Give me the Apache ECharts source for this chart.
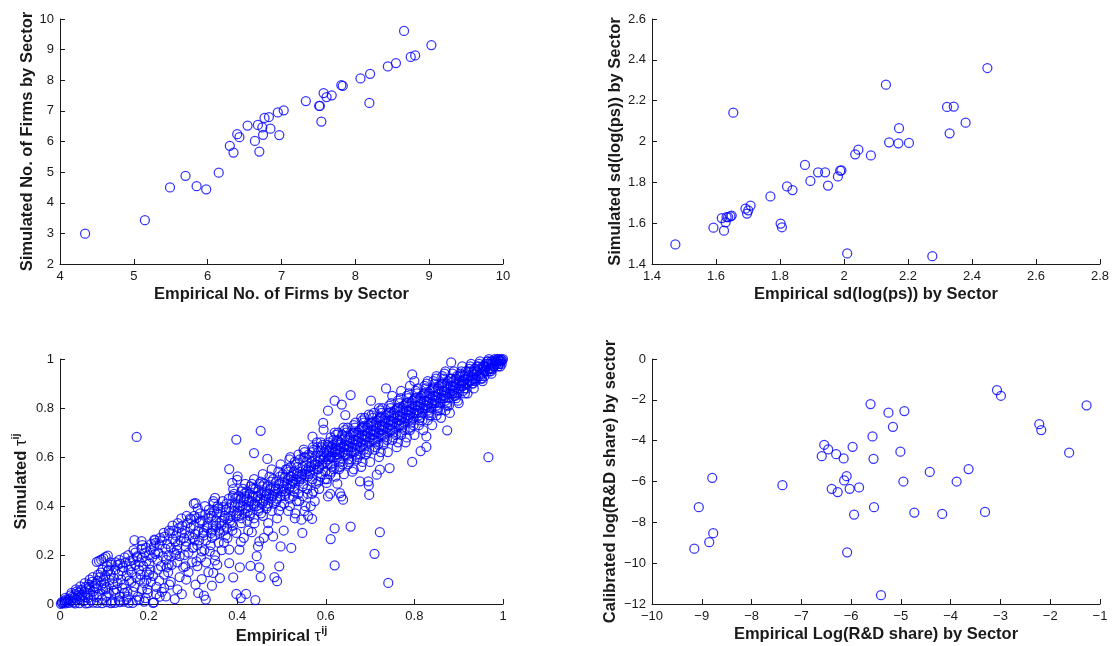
<!DOCTYPE html>
<html>
<head>
<meta charset="utf-8">
<title>Sector calibration scatter plots</title>
<script src="https://cdn.jsdelivr.net/npm/echarts@6/dist/echarts.min.js"></script>
<style>
  html, body { margin: 0; padding: 0; background: #ffffff; }
  #chart { width: 1115px; height: 646px; }
</style>
</head>
<body>
<div id="chart"></div>
<script>
// Number of firms by sector: [empirical, simulated]
const firmsPairs = [
  [4.34,2.99],[5.15,3.43],[5.49,4.50],[5.70,4.88],[5.85,4.54],[5.98,4.44],[6.15,4.98],
  [6.30,5.86],[6.35,5.64],[6.40,6.24],[6.43,6.14],[6.54,6.52],[6.64,6.02],[6.68,6.54],
  [6.70,5.67],[6.74,6.46],[6.75,6.22],[6.77,6.77],[6.83,6.80],[6.85,6.42],[6.95,6.95],
  [6.97,6.21],[7.03,7.02],[7.33,7.32],[7.51,7.16],[7.52,7.16],[7.54,6.65],[7.57,7.58],
  [7.61,7.45],[7.68,7.51],[7.81,7.84],[7.83,7.82],[8.07,8.06],[8.19,7.26],[8.20,8.21],
  [8.44,8.45],[8.55,8.56],[8.66,9.61],[8.75,8.76],[8.81,8.81],[9.03,9.15]
];

// sd(log(ps)) by sector: [empirical, simulated]
const sdPairs = [
  [1.473,1.496],[1.592,1.578],[1.618,1.625],[1.625,1.563],[1.630,1.604],[1.633,1.630],
  [1.638,1.630],[1.645,1.633],[1.649,1.637],[1.654,2.141],[1.692,1.671],[1.697,1.647],
  [1.701,1.663],[1.708,1.686],[1.770,1.731],[1.802,1.598],[1.806,1.580],[1.822,1.780],
  [1.839,1.762],[1.878,1.885],[1.895,1.807],[1.919,1.849],[1.941,1.849],[1.950,1.784],
  [1.981,1.829],[1.988,1.857],[1.992,1.859],[2.010,1.452],[2.035,1.937],[2.045,1.960],
  [2.084,1.932],[2.131,2.278],[2.141,1.996],[2.170,1.991],[2.172,2.065],[2.203,1.993],
  [2.276,1.438],[2.322,2.169],[2.330,2.040],[2.343,2.171],[2.380,2.092],[2.448,2.360]
];

// Log(R&D share) by sector: [empirical, calibrated]
const rdPairs = [
  [-9.15,-9.29],[-9.06,-7.26],[-8.85,-8.97],[-8.79,-5.82],[-8.77,-8.53],[-7.38,-6.18],
  [-6.59,-4.76],[-6.54,-4.20],[-6.46,-4.43],[-6.39,-6.36],[-6.30,-4.66],[-6.27,-6.52],
  [-6.15,-4.87],[-6.14,-5.95],[-6.09,-5.74],[-6.08,-9.47],[-6.03,-6.36],[-5.97,-4.30],
  [-5.94,-7.62],[-5.84,-6.29],[-5.61,-2.21],[-5.57,-3.79],[-5.55,-4.89],[-5.54,-7.26],
  [-5.40,-11.57],[-5.25,-2.63],[-5.16,-3.32],[-5.01,-4.54],[-4.95,-6.00],[-4.93,-2.55],
  [-4.73,-7.52],[-4.42,-5.53],[-4.17,-7.59],[-3.88,-6.00],[-3.64,-5.39],[-3.31,-7.49],
  [-3.07,-1.52],[-2.99,-1.80],[-2.22,-3.19],[-2.18,-3.48],[-1.62,-4.59],[-1.27,-2.27]
];

// Bilateral tau: [empirical, simulated] — main band along the diagonal
const tauBand = [
  [0.002,0.001],[0.005,0.004],[0.008,0.006],[0.01,0.012],[0.012,0.003],[0.015,0.009],[0.018,0.016],[0.02,0.005],[0.004,0.008],[0.013,0.018],
  [0.022,0.02],[0.025,0.011],[0.028,0.03],[0.03,0.007],[0.032,0.025],[0.035,0.04],[0.037,0.018],[0.04,0.033],[0.026,0.045],[0.038,0.052],[0.034,0.003],
  [0.042,0.045],[0.045,0.02],[0.048,0.058],[0.05,0.037],[0.053,0.012],[0.055,0.05],[0.058,0.07],[0.044,0.004],[0.057,0.028],[0.06,0.061],
  [0.062,0.043],[0.065,0.08],[0.068,0.06],[0.07,0.015],[0.072,0.09],[0.075,0.052],[0.078,0.072],[0.064,0.004],[0.076,0.034],[0.08,0.083],[0.067,0.1],
  [0.082,0.065],[0.085,0.095],[0.088,0.04],[0.09,0.11],[0.093,0.077],[0.095,0.02],[0.098,0.1],[0.084,0.005],[0.097,0.06],[0.1,0.085],[0.092,0.128],
  [0.102,0.115],[0.105,0.07],[0.108,0.135],[0.11,0.045],[0.112,0.098],[0.115,0.12],[0.118,0.01],[0.104,0.03],[0.116,0.16],[0.12,0.08],[0.11,0.14],
  [0.122,0.105],[0.125,0.14],[0.128,0.06],[0.13,0.16],[0.132,0.12],[0.135,0.03],[0.138,0.1],[0.124,0.005],[0.136,0.165],[0.14,0.135],[0.13,0.085],
  [0.142,0.15],[0.145,0.08],[0.148,0.17],[0.15,0.115],[0.152,0.05],[0.155,0.14],[0.158,0.175],[0.144,0.01],[0.156,0.095],[0.16,0.155],[0.15,0.02],
  [0.162,0.13],[0.165,0.18],[0.168,0.07],[0.17,0.16],[0.172,0.11],[0.175,0.195],[0.178,0.14],[0.164,0.005],[0.176,0.03],[0.18,0.17],[0.17,0.21],
  [0.182,0.12],[0.185,0.19],[0.188,0.155],[0.19,0.085],[0.192,0.21],[0.195,0.175],[0.198,0.045],[0.184,0.225],[0.196,0.13],[0.2,0.2],[0.19,0.01],
  [0.202,0.165],[0.205,0.22],[0.208,0.19],[0.21,0.115],[0.212,0.235],[0.215,0.205],[0.218,0.07],[0.204,0.14],[0.216,0.25],[0.22,0.18],[0.21,0.005],
  [0.222,0.21],[0.225,0.24],[0.228,0.155],[0.23,0.26],[0.232,0.195],[0.235,0.12],[0.238,0.225],[0.224,0.095],[0.236,0.275],[0.24,0.18],[0.23,0.05],
  [0.242,0.245],[0.245,0.2],[0.248,0.29],[0.25,0.23],[0.252,0.16],[0.255,0.265],[0.258,0.21],[0.244,0.13],[0.256,0.3],[0.26,0.255],[0.25,0.09],
  [0.262,0.28],[0.265,0.24],[0.268,0.31],[0.27,0.195],[0.272,0.26],[0.275,0.29],[0.278,0.15],[0.264,0.22],[0.276,0.32],[0.28,0.27],[0.27,0.11],
  [0.282,0.3],[0.285,0.255],[0.288,0.33],[0.29,0.21],[0.292,0.28],[0.295,0.31],[0.298,0.17],[0.284,0.235],[0.296,0.345],[0.3,0.27],[0.29,0.13],
  [0.302,0.32],[0.305,0.285],[0.308,0.35],[0.31,0.24],[0.312,0.3],[0.315,0.33],[0.318,0.19],[0.304,0.26],[0.316,0.37],[0.32,0.215],[0.31,0.155],
  [0.322,0.34],[0.325,0.3],[0.328,0.365],[0.33,0.26],[0.332,0.32],[0.335,0.35],[0.338,0.215],[0.324,0.28],[0.336,0.385],[0.34,0.24],[0.33,0.17],
  [0.342,0.36],[0.345,0.32],[0.348,0.38],[0.35,0.28],[0.352,0.34],[0.355,0.37],[0.358,0.25],[0.344,0.3],[0.356,0.4],[0.36,0.33],[0.35,0.2],
  [0.362,0.375],[0.365,0.34],[0.368,0.395],[0.37,0.3],[0.372,0.36],[0.375,0.385],[0.378,0.27],[0.364,0.32],[0.376,0.41],[0.38,0.35],[0.37,0.25],
  [0.382,0.39],[0.385,0.36],[0.388,0.41],[0.39,0.32],[0.392,0.38],[0.395,0.4],[0.398,0.29],[0.384,0.34],[0.396,0.43],[0.4,0.37],[0.39,0.44],
  [0.402,0.41],[0.405,0.38],[0.408,0.43],[0.41,0.35],[0.412,0.4],[0.415,0.42],[0.418,0.44],[0.404,0.36],[0.416,0.45],[0.42,0.39],[0.41,0.46],
  [0.422,0.43],[0.425,0.4],[0.428,0.45],[0.43,0.37],[0.432,0.42],[0.435,0.44],[0.438,0.35],[0.424,0.38],[0.436,0.47],[0.44,0.41],[0.43,0.48],
  [0.442,0.44],[0.445,0.42],[0.448,0.46],[0.45,0.39],[0.452,0.43],[0.455,0.45],[0.458,0.36],[0.444,0.4],[0.456,0.48],[0.46,0.42],[0.45,0.49],
  [0.462,0.46],[0.465,0.44],[0.468,0.48],[0.47,0.41],[0.472,0.45],[0.475,0.47],[0.478,0.38],[0.464,0.43],[0.476,0.5],[0.48,0.44],[0.47,0.33],
  [0.482,0.48],[0.485,0.46],[0.488,0.5],[0.49,0.43],[0.492,0.47],[0.495,0.49],[0.498,0.4],[0.484,0.45],[0.496,0.52],[0.5,0.46],[0.49,0.35],
  [0.502,0.5],[0.505,0.48],[0.508,0.52],[0.51,0.45],[0.512,0.49],[0.515,0.51],[0.518,0.43],[0.504,0.47],[0.516,0.54],[0.52,0.48],[0.51,0.55],
  [0.522,0.52],[0.525,0.5],[0.528,0.54],[0.53,0.47],[0.532,0.51],[0.535,0.53],[0.538,0.45],[0.524,0.49],[0.536,0.56],[0.54,0.5],[0.53,0.58],
  [0.542,0.54],[0.545,0.52],[0.548,0.56],[0.55,0.49],[0.552,0.53],[0.555,0.55],[0.558,0.47],[0.544,0.51],[0.556,0.58],[0.56,0.52],[0.55,0.6],
  [0.562,0.56],[0.565,0.54],[0.568,0.58],[0.57,0.51],[0.572,0.55],[0.575,0.57],[0.578,0.49],[0.564,0.53],[0.576,0.6],[0.58,0.55],[0.57,0.62],
  [0.582,0.58],[0.585,0.56],[0.588,0.6],[0.59,0.53],[0.592,0.57],[0.595,0.59],[0.598,0.51],[0.584,0.55],[0.596,0.62],[0.6,0.58],[0.59,0.64],
  [0.602,0.61],[0.605,0.59],[0.608,0.63],[0.61,0.57],[0.612,0.6],[0.615,0.62],[0.618,0.55],[0.604,0.64],[0.616,0.65],[0.62,0.6],[0.61,0.53],[0.607,0.62],
  [0.622,0.63],[0.625,0.61],[0.628,0.65],[0.63,0.59],[0.632,0.62],[0.635,0.64],[0.638,0.57],[0.624,0.66],[0.636,0.67],[0.64,0.62],[0.63,0.55],[0.627,0.63],
  [0.642,0.65],[0.645,0.63],[0.648,0.67],[0.65,0.61],[0.652,0.64],[0.655,0.66],[0.658,0.59],[0.644,0.68],[0.656,0.69],[0.66,0.64],[0.65,0.57],[0.647,0.65],
  [0.662,0.67],[0.665,0.65],[0.668,0.69],[0.67,0.63],[0.672,0.66],[0.675,0.68],[0.678,0.61],[0.664,0.7],[0.676,0.71],[0.68,0.66],[0.67,0.59],[0.667,0.67],
  [0.682,0.69],[0.685,0.67],[0.688,0.71],[0.69,0.65],[0.692,0.68],[0.695,0.7],[0.698,0.63],[0.684,0.72],[0.696,0.73],[0.7,0.68],[0.69,0.61],[0.687,0.69],
  [0.702,0.71],[0.705,0.69],[0.708,0.73],[0.71,0.67],[0.712,0.7],[0.715,0.72],[0.718,0.65],[0.704,0.74],[0.716,0.75],[0.72,0.7],[0.71,0.63],[0.707,0.71],
  [0.722,0.73],[0.725,0.71],[0.728,0.75],[0.73,0.69],[0.732,0.72],[0.735,0.74],[0.738,0.67],[0.724,0.76],[0.736,0.77],[0.74,0.72],[0.73,0.65],[0.727,0.73],
  [0.742,0.75],[0.745,0.73],[0.748,0.77],[0.75,0.71],[0.752,0.74],[0.755,0.76],[0.758,0.69],[0.744,0.78],[0.756,0.79],[0.76,0.74],[0.75,0.67],[0.747,0.75],
  [0.762,0.77],[0.765,0.75],[0.768,0.79],[0.77,0.73],[0.772,0.76],[0.775,0.78],[0.778,0.71],[0.764,0.8],[0.776,0.81],[0.78,0.76],[0.77,0.69],[0.767,0.77],
  [0.782,0.79],[0.785,0.77],[0.788,0.81],[0.79,0.75],[0.792,0.78],[0.795,0.8],[0.798,0.73],[0.784,0.82],[0.796,0.83],[0.8,0.78],[0.79,0.71],[0.787,0.79],
  [0.802,0.81],[0.805,0.79],[0.808,0.83],[0.81,0.77],[0.812,0.8],[0.815,0.82],[0.818,0.75],[0.804,0.84],[0.816,0.85],[0.82,0.8],[0.81,0.73],[0.807,0.81],
  [0.822,0.83],[0.825,0.81],[0.828,0.85],[0.83,0.79],[0.832,0.82],[0.835,0.84],[0.838,0.77],[0.824,0.86],[0.836,0.87],[0.84,0.82],[0.83,0.75],[0.827,0.83],
  [0.842,0.85],[0.845,0.83],[0.848,0.87],[0.85,0.81],[0.852,0.84],[0.855,0.86],[0.858,0.79],[0.844,0.88],[0.856,0.89],[0.86,0.84],[0.85,0.77],[0.847,0.85],
  [0.862,0.87],[0.865,0.85],[0.868,0.89],[0.87,0.83],[0.872,0.86],[0.875,0.88],[0.878,0.81],[0.864,0.9],[0.876,0.91],[0.88,0.86],[0.87,0.79],[0.867,0.87],
  [0.882,0.89],[0.885,0.87],[0.888,0.91],[0.89,0.85],[0.892,0.88],[0.895,0.9],[0.898,0.83],[0.884,0.92],[0.896,0.93],[0.9,0.88],[0.89,0.86],[0.887,0.89],
  [0.902,0.91],[0.905,0.89],[0.908,0.93],[0.91,0.87],[0.912,0.9],[0.915,0.92],[0.918,0.88],[0.904,0.94],[0.916,0.95],[0.92,0.9],[0.91,0.91],[0.907,0.91],
  [0.922,0.93],[0.925,0.91],[0.928,0.95],[0.93,0.9],[0.932,0.92],[0.935,0.94],[0.938,0.91],[0.924,0.96],[0.936,0.96],[0.94,0.92],[0.93,0.93],
  [0.942,0.95],[0.945,0.93],[0.948,0.96],[0.95,0.92],[0.952,0.94],[0.955,0.96],[0.958,0.93],[0.944,0.97],[0.956,0.97],[0.96,0.95],
  [0.962,0.97],[0.965,0.95],[0.968,0.98],[0.97,0.95],[0.972,0.96],[0.975,0.98],[0.978,0.97],[0.964,0.99],[0.976,0.99],[0.98,0.97],
  [0.982,0.99],[0.985,0.98],[0.988,1.0],[0.99,0.98],[0.992,0.99],[0.995,1.0],[0.998,0.995],[0.984,0.995],[0.996,0.99],[1.0,1.0],[0.99,1.0]
];

// Bilateral tau: [empirical, simulated] — further pairs filling out the band edges
const tauBandEdges = [
  [0.012,0.025],[0.024,0.035],[0.036,0.06],[0.046,0.072],[0.056,0.085],[0.066,0.07],[0.074,0.11],[0.086,0.12],
  [0.096,0.14],[0.106,0.155],[0.114,0.17],[0.126,0.17],[0.134,0.18],[0.146,0.19],[0.154,0.2],[0.166,0.22],
  [0.174,0.19],[0.186,0.24],[0.194,0.23],[0.206,0.245],[0.214,0.26],[0.226,0.27],[0.234,0.29],[0.246,0.3],
  [0.254,0.32],[0.266,0.33],[0.274,0.35],[0.286,0.36],[0.294,0.35],
  [0.103,0.06],[0.121,0.055],[0.141,0.065],[0.161,0.09],[0.181,0.1],[0.201,0.12],[0.221,0.14],[0.241,0.15],
  [0.261,0.2],[0.281,0.2],[0.299,0.23],[0.133,0.015],[0.153,0.03],[0.173,0.015],[0.197,0.06],[0.217,0.04],
  [0.063,0.025],[0.083,0.028],[0.047,0.03],
  [0.303,0.36],[0.311,0.39],[0.318,0.34],[0.323,0.29],[0.327,0.4],[0.333,0.31],[0.339,0.37],[0.343,0.27],
  [0.347,0.41],[0.353,0.32],[0.357,0.39],[0.361,0.29],[0.367,0.42],[0.371,0.35],[0.377,0.31],[0.381,0.43],
  [0.387,0.33],[0.393,0.45],[0.397,0.36],[0.301,0.23],[0.314,0.26],[0.326,0.22],[0.341,0.29],[0.359,0.3],
  [0.374,0.28],[0.389,0.3],
  [0.403,0.44],[0.407,0.4],[0.413,0.47],[0.417,0.37],[0.421,0.46],[0.427,0.42],[0.433,0.49],[0.437,0.4],
  [0.441,0.47],[0.447,0.44],[0.453,0.5],[0.457,0.41],[0.461,0.49],[0.467,0.45],[0.473,0.52],[0.477,0.43],
  [0.481,0.51],[0.487,0.47],[0.493,0.54],[0.497,0.44],[0.409,0.33],[0.423,0.34],[0.439,0.33],[0.454,0.37],
  [0.466,0.39],[0.483,0.41],[0.494,0.38],
  [0.503,0.53],[0.507,0.46],[0.513,0.55],[0.517,0.47],[0.521,0.56],[0.527,0.5],[0.533,0.57],[0.537,0.52],
  [0.541,0.59],[0.547,0.53],[0.553,0.6],[0.557,0.54],[0.561,0.61],[0.567,0.56],[0.573,0.63],[0.577,0.57],
  [0.581,0.64],[0.587,0.59],[0.593,0.65],[0.597,0.6],[0.506,0.41],[0.519,0.4],[0.526,0.44],[0.534,0.42],
  [0.548,0.44],[0.559,0.45],[0.572,0.46],[0.583,0.5],[0.599,0.54],[0.531,0.37],[0.552,0.38],[0.566,0.4],
  [0.601,0.63],[0.606,0.66],[0.609,0.6],[0.613,0.64],[0.617,0.67],[0.621,0.62],[0.626,0.67],[0.629,0.61],
  [0.633,0.66],[0.637,0.69],[0.641,0.64],[0.646,0.7],[0.649,0.63],[0.653,0.68],[0.657,0.62],[0.661,0.7],
  [0.666,0.72],[0.669,0.65],[0.673,0.7],[0.677,0.64],[0.681,0.72],[0.686,0.74],[0.689,0.67],[0.693,0.72],
  [0.697,0.66],[0.614,0.56],[0.633,0.58],[0.651,0.59],[0.668,0.61],[0.686,0.63],[0.603,0.51],[0.622,0.52],
  [0.641,0.53],[0.663,0.55],[0.683,0.58],
  [0.701,0.74],[0.706,0.76],[0.709,0.69],[0.713,0.74],[0.717,0.68],[0.721,0.76],[0.726,0.78],[0.729,0.71],
  [0.733,0.76],[0.737,0.7],[0.741,0.78],[0.746,0.8],[0.749,0.73],[0.753,0.78],[0.757,0.72],[0.761,0.8],
  [0.766,0.82],[0.769,0.75],[0.773,0.8],[0.777,0.74],[0.781,0.82],[0.786,0.84],[0.789,0.77],[0.793,0.82],
  [0.797,0.76],[0.712,0.64],[0.731,0.66],[0.752,0.68],[0.771,0.7],[0.791,0.72],[0.724,0.62],[0.763,0.66],
  [0.783,0.68],
  [0.801,0.84],[0.806,0.86],[0.809,0.79],[0.813,0.84],[0.817,0.78],[0.821,0.86],[0.826,0.88],[0.829,0.81],
  [0.833,0.86],[0.837,0.8],[0.841,0.88],[0.846,0.9],[0.849,0.83],[0.853,0.88],[0.857,0.82],[0.861,0.9],
  [0.866,0.92],[0.869,0.85],[0.873,0.9],[0.877,0.84],[0.881,0.92],[0.886,0.94],[0.889,0.87],[0.893,0.92],
  [0.897,0.86],[0.811,0.75],[0.834,0.77],[0.853,0.79],[0.874,0.81],[0.894,0.84],
  [0.901,0.93],[0.906,0.95],[0.909,0.89],[0.913,0.93],[0.917,0.9],[0.921,0.95],[0.926,0.97],[0.929,0.91],
  [0.933,0.95],[0.937,0.92],[0.941,0.97],[0.946,0.98],[0.949,0.93],[0.953,0.97],[0.957,0.95],[0.961,0.98],
  [0.966,0.99],[0.969,0.96],[0.973,0.99],[0.977,0.96],[0.981,1.0],[0.986,0.99],[0.989,0.97],[0.993,0.995],
  [0.997,0.98],[0.914,0.86],[0.934,0.88],[0.954,0.91],[0.974,0.94],[0.994,0.97]
];

// Bilateral tau: [empirical, simulated] — outer rim of the band (upper and lower sides)
const tauBandRim = [
  [0.552,0.62],[0.571,0.64],[0.589,0.66],[0.611,0.68],[0.628,0.7],[0.649,0.72],[0.667,0.74],[0.688,0.76],
  [0.709,0.78],[0.728,0.8],[0.748,0.82],[0.769,0.84],[0.788,0.86],[0.808,0.88],[0.828,0.9],[0.849,0.92],
  [0.868,0.94],[0.889,0.95],[0.908,0.97],[0.928,0.98],[0.948,0.99],[0.968,1.0],
  [0.563,0.6],[0.583,0.62],[0.604,0.65],[0.623,0.69],[0.643,0.71],[0.663,0.73],[0.683,0.75],[0.703,0.77],
  [0.723,0.79],[0.743,0.81],[0.763,0.83],[0.783,0.85],[0.803,0.87],[0.823,0.89],[0.843,0.91],[0.863,0.93],
  [0.613,0.54],[0.632,0.56],[0.653,0.58],[0.672,0.6],[0.693,0.62],[0.713,0.66],[0.733,0.68],[0.753,0.7],
  [0.773,0.72],[0.793,0.74],[0.813,0.76],[0.833,0.78],[0.853,0.8],[0.873,0.82],[0.893,0.85],[0.913,0.88],
  [0.933,0.9],[0.953,0.92],[0.973,0.95],[0.993,0.98],
  [0.604,0.57],[0.626,0.6],[0.644,0.61],[0.664,0.62],[0.684,0.65],[0.706,0.67],[0.726,0.69],[0.746,0.71],
  [0.766,0.73],[0.786,0.76],[0.806,0.78],[0.826,0.8],[0.846,0.82],[0.866,0.84],[0.886,0.86],[0.906,0.9],
  [0.418,0.49],[0.438,0.51],[0.458,0.53],[0.478,0.55],[0.498,0.57],[0.518,0.59],[0.538,0.61],
  [0.428,0.36],[0.448,0.38],[0.468,0.4],[0.488,0.42],[0.508,0.44],[0.528,0.46],[0.548,0.48],[0.568,0.5],
  [0.588,0.52]
];

// Bilateral tau: [empirical, simulated] — pairs away from the band
const tauOutliers = [
  [0.083,0.172],[0.088,0.176],[0.093,0.181],[0.098,0.186],[0.103,0.192],[0.108,0.197],
  [0.173,0.682],[0.398,0.671],[0.453,0.707],[0.438,0.616],[0.468,0.592],[0.382,0.551],
  [0.401,0.521],[0.400,0.507],[0.389,0.494],[0.391,0.469],[0.967,0.599],[0.795,0.580],
  [0.874,0.709],[0.814,0.624],[0.827,0.641],[0.827,0.684],[0.883,0.986],[0.795,0.937],
  [0.656,0.853],[0.620,0.830],[0.605,0.789],[0.636,0.814],[0.644,0.771],[0.702,0.830],
  [0.594,0.739],[0.595,0.712],[0.570,0.683],[0.736,0.880],[0.697,0.773],
  [0.741,0.086],[0.710,0.205],[0.722,0.293],[0.656,0.316],[0.620,0.309],[0.611,0.265],
  [0.620,0.158],[0.698,0.445],[0.697,0.484],[0.696,0.501],[0.677,0.501],[0.744,0.555],
  [0.715,0.528],[0.722,0.548],[0.635,0.439],[0.639,0.426],[0.632,0.453],[0.610,0.450],
  [0.605,0.439],[0.626,0.491],[0.602,0.494],[0.569,0.450],[0.554,0.399],[0.547,0.290],
  [0.545,0.344],[0.569,0.347],[0.522,0.229],[0.498,0.235],[0.495,0.154],[0.490,0.093],
  [0.484,0.110],[0.481,0.276],[0.453,0.110],[0.444,0.195],[0.447,0.235],[0.433,0.293],
  [0.450,0.256],[0.430,0.156],[0.450,0.150],[0.441,0.016],[0.420,0.041],[0.408,0.024],
  [0.398,0.041],[0.406,0.150],[0.405,0.222],[0.408,0.254],[0.391,0.109],[0.382,0.167],
  [0.382,0.222],[0.343,0.075],[0.329,0.018],[0.325,0.034],[0.312,0.045],[0.306,0.079],
  [0.320,0.102],[0.361,0.106],[0.350,0.178],[0.346,0.127],[0.259,0.020],[0.239,0.031],
  [0.235,0.065],[0.247,0.079],[0.212,0.007],[0.193,0.024],[0.179,0.018],[0.195,0.099],
  [0.308,0.174],[0.283,0.154],[0.168,0.261],[0.184,0.257],[0.213,0.263],[0.302,0.410],
  [0.306,0.412],[0.350,0.433],[0.346,0.420],[0.520,0.520],[0.505,0.300],[0.515,0.380],
  [0.530,0.350],[0.560,0.360],[0.575,0.420],[0.585,0.470],[0.540,0.420],[0.470,0.300],
  [0.460,0.270],[0.425,0.300],[0.415,0.270],[0.365,0.220],[0.355,0.160],[0.335,0.130],
  [0.285,0.100],[0.265,0.060],[0.275,0.040],[0.225,0.030],[0.155,0.005],[0.135,0.008],
  [0.115,0.004],[0.105,0.008],[0.095,0.004],[0.075,0.006],[0.058,0.003],[0.125,0.045],
  [0.145,0.045],[0.165,0.05],[0.185,0.06],[0.205,0.09],[0.245,0.16],[0.265,0.17],
  [0.66,0.54],[0.68,0.56],[0.70,0.58],[0.72,0.60],[0.74,0.62],[0.76,0.64],[0.78,0.66],
  [0.80,0.69],[0.82,0.71],[0.84,0.73],[0.86,0.76],[0.88,0.78],[0.90,0.82],[0.92,0.86],
  [0.75,0.85],[0.77,0.87],[0.79,0.89],[0.83,0.91],[0.85,0.93],[0.87,0.95],[0.80,0.91],
  [0.62,0.70],[0.64,0.72],[0.68,0.76],[0.72,0.80],[0.58,0.66],[0.55,0.63],[0.52,0.60]
];

const tickFont = 'Liberation Sans, Arial, Helvetica, sans-serif';
const inkColor = '#1a1a1a';
const markColor = '#0000ff';

function minusFmt(v) {
  return String(+v.toFixed(2)).replace('-', '\u2212');
}

function makeAxis(gridIndex, min, max, interval, name, nameGap, isY) {
  return {
    type: 'value',
    gridIndex: gridIndex,
    min: min,
    max: max,
    interval: interval,
    name: name,
    nameLocation: 'middle',
    nameGap: nameGap,
    nameRotate: isY ? 90 : 0,
    nameTextStyle: {
      fontFamily: tickFont,
      fontSize: 16.5,
      fontWeight: 'bold',
      color: inkColor,
      rich: {
        tau: { fontFamily: tickFont, fontSize: 16.5, fontWeight: 'normal', color: inkColor },
        sup: { fontFamily: tickFont, fontSize: 11, fontWeight: 'bold', color: inkColor, padding: [0, 0, 12, 0] },
        b: { fontFamily: tickFont, fontSize: 16.5, fontWeight: 'bold', color: inkColor }
      }
    },
    axisLine: { show: true, onZero: false, lineStyle: { color: inkColor, width: 1 } },
    axisTick: { show: true, inside: true, length: 5, lineStyle: { color: inkColor, width: 1 } },
    axisLabel: {
      show: true,
      margin: 6,
      fontFamily: tickFont,
      fontSize: 13,
      color: inkColor,
      formatter: minusFmt
    },
    splitLine: { show: false }
  };
}

const scatterStyle = {
  type: 'scatter',
  symbol: 'circle',
  symbolSize: 9,
  itemStyle: { color: 'transparent', borderColor: markColor, borderWidth: 1.25 },
  emphasis: { disabled: true },
  animation: false
};

const chart = echarts.init(document.getElementById('chart'), null, { renderer: 'canvas' });

chart.setOption({
  backgroundColor: '#ffffff',
  animation: false,
  grid: [
    { left: 60, top: 19, width: 443, height: 245 },
    { left: 652, top: 19, width: 448, height: 245 },
    { left: 60, top: 359, width: 443, height: 245 },
    { left: 652, top: 359, width: 448, height: 245 }
  ],
  xAxis: [
    makeAxis(0, 4, 10, 1, 'Empirical No. of Firms by Sector', 22, false),
    makeAxis(1, 1.4, 2.8, 0.2, 'Empirical sd(log(ps)) by Sector', 22, false),
    makeAxis(2, 0, 1, 0.2, '{b|Empirical }{tau|\u03c4}{sup|ij}', 21, false),
    makeAxis(3, -10, -1, 1, 'Empirical Log(R&D share) by Sector', 22, false)
  ],
  yAxis: [
    makeAxis(0, 2, 10, 1, 'Simulated No. of Firms by Sector', 23, true),
    makeAxis(1, 1.4, 2.6, 0.2, 'Simulated sd(log(ps)) by Sector', 27, true),
    makeAxis(2, 0, 1, 0.2, '{b|Simulated }{tau|\u03c4}{sup|ij}', 27, true),
    makeAxis(3, -12, 0, 2, 'Calibrated log(R&D share) by sector', 33, true)
  ],
  series: [
    Object.assign({}, scatterStyle, { xAxisIndex: 0, yAxisIndex: 0, data: firmsPairs }),
    Object.assign({}, scatterStyle, { xAxisIndex: 1, yAxisIndex: 1, data: sdPairs }),
    Object.assign({}, scatterStyle, { xAxisIndex: 2, yAxisIndex: 2, data: tauBand.concat(tauBandEdges, tauBandRim, tauOutliers) }),
    Object.assign({}, scatterStyle, { xAxisIndex: 3, yAxisIndex: 3, data: rdPairs })
  ]
});
</script>
</body>
</html>
